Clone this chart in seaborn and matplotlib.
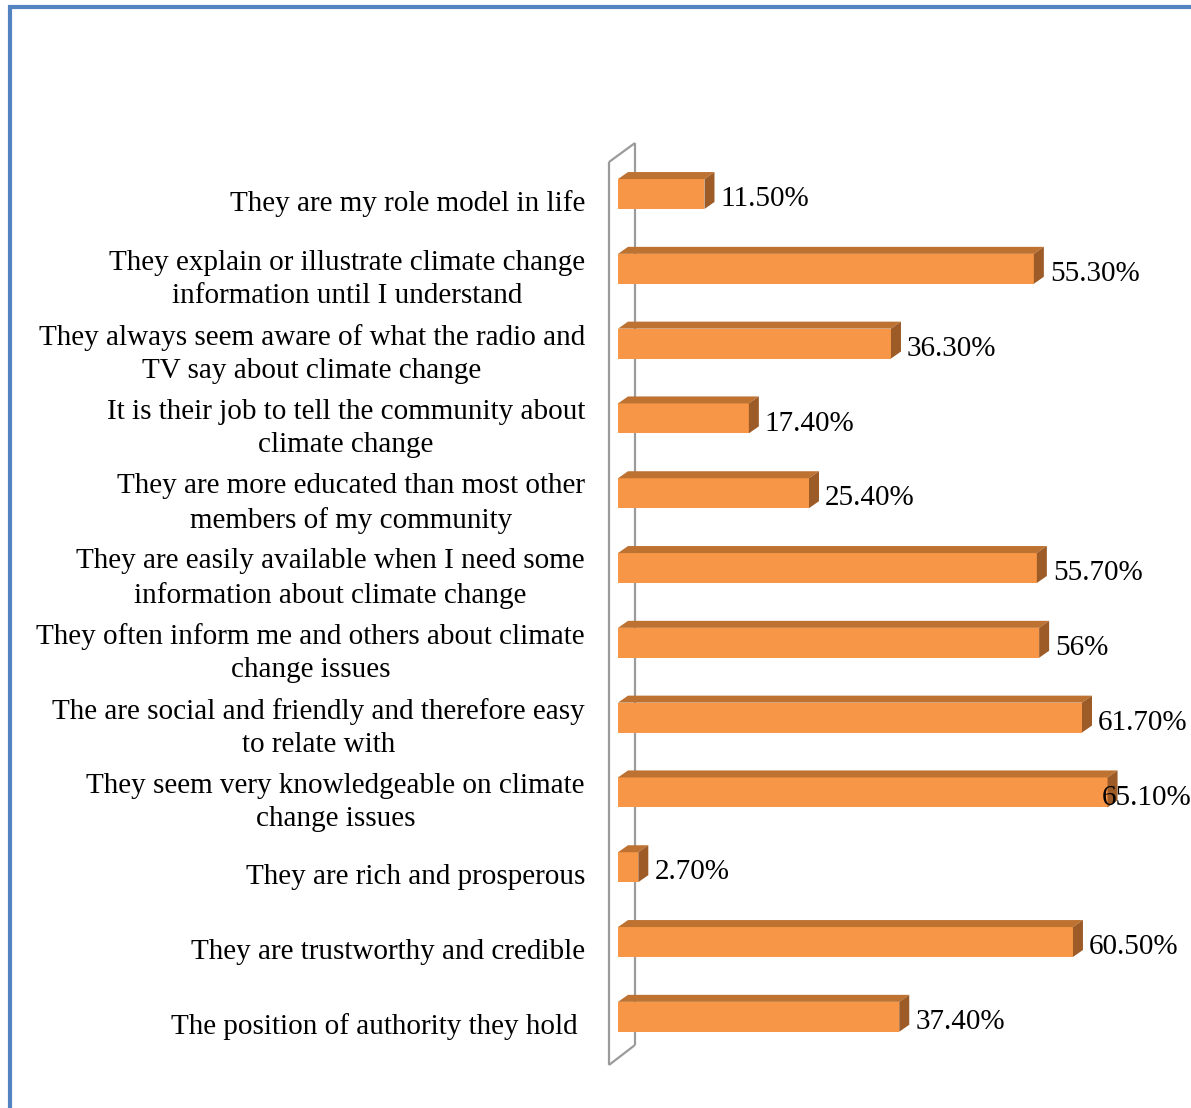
import matplotlib
matplotlib.use('Agg')

import numpy as np
import pandas as pd
import matplotlib.pyplot as plt
import matplotlib.transforms as mtransforms
import seaborn as sns
from matplotlib.patches import Polygon
from matplotlib.lines import Line2D


# ==============================
# DADOS
# ==============================

razoes = [
    "They are my role model in life",
    "They explain or illustrate climate change\ninformation until I understand",
    "They always seem aware of what the radio and\nTV say about climate change",
    "It is their job to tell the community about\nclimate change",
    "They are more educated than most other\nmembers of my community",
    "They are easily available when I need some\ninformation about climate change",
    "They often inform me and others about climate\nchange issues",
    "The are social and friendly and therefore easy\nto relate with",
    "They seem very knowledgeable on climate\nchange issues",
    "They are rich and prosperous",
    "They are trustworthy and credible",
    "The position of authority they hold ",
]

percentuais = [11.5, 55.3, 36.3, 17.4, 25.4, 55.7, 56.0, 61.7, 65.1, 2.7, 60.5, 37.4]

rotulos = ["11.50%", "55.30%", "36.30%", "17.40%", "25.40%", "55.70%",
           "56%", "61.70%", "65.10%", "2.70%", "60.50%", "37.40%"]

df = pd.DataFrame({"razao": razoes, "pct": percentuais})


# ==============================
# FIGURA
# ==============================

W, H = 1191, 1108
sns.set_style("white")
plt.rcParams['font.family'] = ['Liberation Serif', 'DejaVu Serif']
plt.rcParams['text.color'] = 'black'
plt.rcParams['ytick.color'] = 'black'

fig = plt.figure(figsize=(W / 100, H / 100), dpi=100)

x0_px = 618          # borda esquerda das barras
px_por_pct = 7.52
y0_px = 194          # centro da primeira barra
passo_px = 74.8
tam = 21

ax = fig.add_axes([x0_px / W, 0, 1 - x0_px / W, 1])

sns.barplot(data=df, x="pct", y="razao", orient="h", color="#F79646",
            width=0.40, saturation=1, linewidth=0, ax=ax)

ax.set_xlim(0, (W - x0_px) / px_por_pct)
ax.set_ylim((H - y0_px) / passo_px, -y0_px / passo_px)

# profundidade 3D
dx = 10 / px_por_pct
dy = 7 / passo_px

for p in list(ax.patches):
    xa, ya = p.get_x(), p.get_y()
    w, h = p.get_width(), p.get_height()
    xb = xa + w
    topo = Polygon([(xa, ya), (xb, ya), (xb + dx, ya - dy), (xa + dx, ya - dy)],
                   closed=True, facecolor="#BE7232", edgecolor="none")
    lado = Polygon([(xb, ya), (xb + dx, ya - dy), (xb + dx, ya + h - dy), (xb, ya + h)],
                   closed=True, facecolor="#9C5B27", edgecolor="none")
    ax.add_patch(topo)
    ax.add_patch(lado)

# rotulos de valor
x_max_rot = (1102 - x0_px) / px_por_pct
for i, (v, r) in enumerate(zip(percentuais, rotulos)):
    ax.text(min(v + 16 / px_por_pct, x_max_rot), i + 0.07, r,
            ha="left", va="center", fontsize=tam, color="black")

# rotulos das categorias
ax.set_yticks(np.arange(len(razoes)) + 0.09)
ax.set_yticklabels(razoes, fontsize=tam, multialignment="center", color="black",
                   linespacing=1.35)
ax.tick_params(axis="y", length=0, pad=(x0_px - 585) * 0.72)

# rotulos de duas linhas um pouco mais altos
sobe = mtransforms.ScaledTranslation(0, 3 / 100, fig.dpi_scale_trans)
for lbl in ax.get_yticklabels():
    if "\n" in lbl.get_text():
        lbl.set_transform(lbl.get_transform() + sobe)

ax.set_xticks([])
ax.set_xlabel("")
ax.set_ylabel("")
for s in ax.spines.values():
    s.set_visible(False)


# ==============================
# PAREDE 3D DO EIXO
# ==============================

def px(xp, yp):
    return ((xp - x0_px) / px_por_pct, (yp - y0_px) / passo_px)

cinza = "#9B9B9B"
for (a, b) in [((609, 162), (609, 1065)), ((635, 143), (635, 1045)),
               ((609, 162), (635, 143)), ((609, 1065), (635, 1045))]:
    pa, pb = px(*a), px(*b)
    ax.plot([pa[0], pb[0]], [pa[1], pb[1]], color=cinza, lw=1.6,
            clip_on=False, zorder=0.5, solid_capstyle="butt")


# ==============================
# MOLDURA AZUL
# ==============================

azul = "#5383C0"
fig.add_artist(Line2D([10 / W, 10 / W], [0, 1 - 5 / H], color=azul, lw=3.0,
                      transform=fig.transFigure, solid_capstyle="butt"))
fig.add_artist(Line2D([8 / W, 1], [1 - 7 / H, 1 - 7 / H], color=azul, lw=3.0,
                      transform=fig.transFigure, solid_capstyle="butt"))

fig.savefig("out.png", dpi=100)
plt.close(fig)
